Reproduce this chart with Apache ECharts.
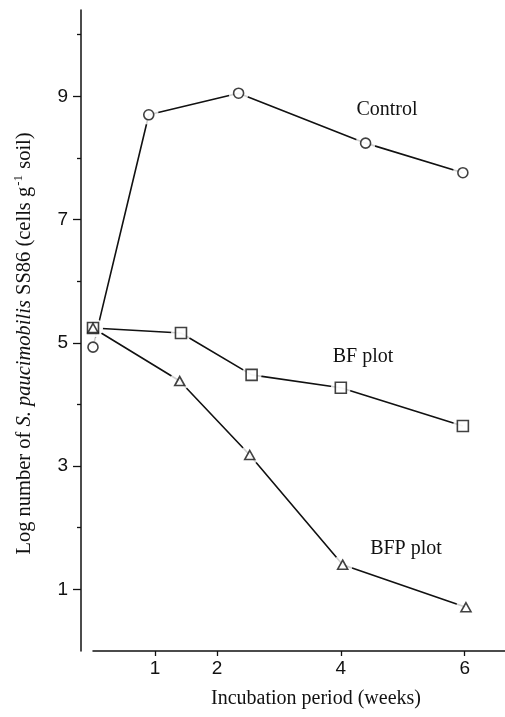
<!DOCTYPE html>
<html>
<head>
<meta charset="utf-8">
<script src="https://cdn.jsdelivr.net/npm/echarts@6/dist/echarts.min.js"></script>
<style>
  html, body { margin: 0; padding: 0; background: #fff; }
  #chart { width: 505px; height: 717px; }
</style>
</head>
<body>
<div id="chart"></div>
<script>
// values (x in weeks, y in log cells per g soil)
var weeksControl = [0, 0.9, 2.35, 4.4, 5.97];
var control = [4.93, 8.70, 9.05, 8.24, 7.76];
var weeksBF = [0, 1.42, 2.56, 4.0, 5.97];
var bf = [5.24, 5.16, 4.48, 4.27, 3.65];
var weeksBFP = [0, 1.40, 2.53, 4.03, 6.02];
var bfp = [5.24, 4.38, 3.18, 1.40, 0.71];
var xTickValues = [1, 2, 4, 6];
var yLabelValues = [1, 3, 5, 7, 9];
var yMinorValues = [2, 4, 6, 8, 10];

function pairs(xs, ys) {
  return xs.map(function (x, i) { return [x, ys[i]]; });
}

var ink = '#111';
var serif = '"Liberation Serif", "DejaVu Serif", serif';
var sans = '"Liberation Sans", Arial, sans-serif';

var groups = [
  { name: 'Control', data: pairs(weeksControl, control), symbol: 'circle', size: 10 },
  { name: 'BF plot', data: pairs(weeksBF, bf), symbol: 'rect', size: 11 },
  { name: 'BFP plot', data: pairs(weeksBFP, bfp), symbol: 'triangle', size: [10, 9] }
];

var series = [];
groups.forEach(function (g) {
  series.push({
    name: g.name, type: 'line', data: g.data, showSymbol: false, z: 2,
    lineStyle: { color: ink, width: 1.6 }, silent: true
  });
});
// white halo so the lines stop short of the markers
groups.forEach(function (g) {
  series.push({
    type: 'scatter', data: g.data, symbol: 'circle', symbolSize: 20, z: 3,
    itemStyle: { color: '#fff', borderWidth: 0 }, silent: true
  });
});
groups.forEach(function (g) {
  series.push({
    name: g.name, type: 'scatter', data: g.data, symbol: g.symbol, symbolSize: g.size, z: 4,
    itemStyle: { color: '#fff', borderColor: ink, borderWidth: 1.6 }
  });
});

var chart = echarts.init(document.getElementById('chart'));
var option = {
  backgroundColor: '#fff',
  animation: false,
  grid: { left: 93, right: 0, top: 10, bottom: 66 },
  xAxis: {
    type: 'value', min: 0, max: 6.65,
    name: 'Incubation period (weeks)',
    nameLocation: 'middle', nameGap: 38,
    nameTextStyle: { fontFamily: serif, fontSize: 20, color: ink, padding: [0, 0, 0, 34] },
    axisLine: { show: true, onZero: false, lineStyle: { color: ink, width: 1.5 } },
    axisTick: { show: true, customValues: xTickValues, length: 5, inside: false, lineStyle: { color: ink, width: 1.3 } },
    axisLabel: { customValues: xTickValues, margin: 8, fontFamily: sans, fontSize: 19, color: ink },
    splitLine: { show: false }
  },
  yAxis: [{
    type: 'value', min: 0, max: 10.4, position: 'left', offset: 12,
    name: 'Log number of {it|S. paucimobilis} SS86 (cells g{sup|-1} soil)',
    nameLocation: 'middle', nameRotate: 90, nameGap: 44,
    nameTextStyle: {
      fontFamily: serif, fontSize: 20.5, color: ink, padding: [0, 26, 0, 0],
      rich: {
        it: { fontFamily: serif, fontSize: 20.5, fontStyle: 'italic', color: ink },
        sup: { fontFamily: serif, fontSize: 13, color: ink, verticalAlign: 'top', padding: [0, 1, 12, 1] }
      }
    },
    axisLine: { show: true, onZero: false, lineStyle: { color: ink, width: 1.5 } },
    axisTick: { show: true, customValues: yLabelValues, length: 8, lineStyle: { color: ink, width: 1.3 } },
    axisLabel: { customValues: yLabelValues, margin: 13, fontFamily: sans, fontSize: 19, color: ink },
    splitLine: { show: false }
  }, {
    type: 'value', min: 0, max: 10.4, position: 'left', offset: 12,
    axisLine: { show: false, onZero: false },
    axisTick: { show: true, customValues: yMinorValues, length: 4, lineStyle: { color: ink, width: 1.3 } },
    axisLabel: { show: false },
    splitLine: { show: false }
  }],
  graphic: [
    { type: 'text', x: 387, y: 110, style: { text: 'Control', font: '20px ' + serif, fill: ink, align: 'center', verticalAlign: 'middle' } },
    { type: 'text', x: 363, y: 357, style: { text: 'BF plot', font: '20px ' + serif, fill: ink, align: 'center', verticalAlign: 'middle' } },
    { type: 'text', x: 406, y: 549, style: { text: 'BFP plot', font: '20px ' + serif, fill: ink, align: 'center', verticalAlign: 'middle' } }
  ],
  series: series
};
chart.setOption(option);
</script>
</body>
</html>
